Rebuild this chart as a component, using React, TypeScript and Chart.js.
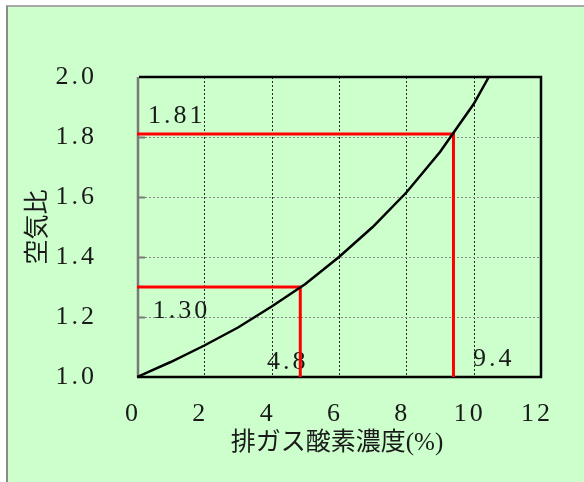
import React, { useEffect, useRef } from 'react';
import { Chart, registerables } from 'chart.js';

Chart.register(...registerables);

// ---- data ----
const o2Percent = [0, 1, 2, 3, 4, 5, 6, 7, 8, 9, 10, 10.45];
const airRatio = [1.0, 1.05, 1.105, 1.165, 1.235, 1.31, 1.4, 1.5, 1.615, 1.75, 1.91, 2.0];

const markerHighX = [0, 9.4, 9.4];
const markerHighY = [1.81, 1.81, 1.0];
const markerLowX = [0, 4.85, 4.85];
const markerLowY = [1.3, 1.3, 1.0];

const xTickValues = [0, 2, 4, 6, 8, 10, 12];
const yTickValues = [1.0, 1.2, 1.4, 1.6, 1.8, 2.0];

const annotationTexts = ['1.81', '1.30', '4.8', '9.4'];
const xTitle = '排ガス酸素濃度(%)';
const yTitle = '空気比';

// annotation anchors (data units), kept apart from the values
const annotationAnchors: [number, number][] = [
  [0.33, 1.87],
  [0.47, 1.218],
  [3.86, 1.05],
  [9.98, 1.06],
];

const NUM_FAMILY = '"Liberation Serif", "DejaVu Serif", serif';
const NUM_FONT = '26px ' + NUM_FAMILY;
const JP_FONT = '25px "Liberation Serif", "Noto Sans CJK JP", sans-serif';

const framePlugin = {
  id: 'framePlugin',
  beforeUpdate(chart: any) {
    chart.ctx.letterSpacing = '3px';
  },
  beforeDraw(chart: any) {
    chart.ctx.letterSpacing = '3px';
  },
  beforeDatasetsDraw(chart: any) {
    const { ctx, chartArea, scales } = chart;
    const { left, right, top, bottom } = chartArea;
    const xs = scales.x;
    const ys = scales.y;
    const line = (x1: number, y1: number, x2: number, y2: number) => {
      ctx.beginPath();
      ctx.moveTo(x1, y1);
      ctx.lineTo(x2, y2);
      ctx.stroke();
    };
    ctx.save();
    // vertical grid lines
    ctx.lineWidth = 1;
    ctx.setLineDash([2, 2]);
    ctx.strokeStyle = '#2a2a2a';
    xTickValues.slice(1, -1).forEach((v) => {
      const px = Math.round(xs.getPixelForValue(v)) + 0.5;
      line(px, top, px, bottom);
    });
    // horizontal grid lines
    ctx.strokeStyle = '#8a8a8a';
    yTickValues.slice(1, -1).forEach((v) => {
      const py = Math.round(ys.getPixelForValue(v)) + 0.5;
      line(left, py, right, py);
    });
    ctx.setLineDash([]);
    // left axis (gray) with inward ticks
    ctx.strokeStyle = '#7a7a7a';
    ctx.lineWidth = 2.5;
    line(left + 1, top, left + 1, bottom);
    ctx.lineWidth = 2;
    yTickValues.slice(1, -1).forEach((v) => {
      const py = Math.round(ys.getPixelForValue(v)) + 0.5;
      line(left, py, left + 8, py);
    });
    // top, right, bottom frame (black)
    ctx.strokeStyle = '#000';
    ctx.lineWidth = 2.5;
    ctx.beginPath();
    ctx.moveTo(left + 2, top);
    ctx.lineTo(right, top);
    ctx.lineTo(right, bottom);
    ctx.lineTo(left, bottom);
    ctx.stroke();
    // annotation texts
    ctx.font = NUM_FONT;
    ctx.fillStyle = '#1a1a1a';
    ctx.textAlign = 'left';
    ctx.textBaseline = 'middle';
    ctx.letterSpacing = '3px';
    annotationTexts.forEach((t, i) => {
      const [ax, ay] = annotationAnchors[i];
      ctx.fillText(t, xs.getPixelForValue(ax), ys.getPixelForValue(ay));
    });
    ctx.restore();
  },
  afterDraw(chart: any) {
    const { ctx, chartArea } = chart;
    ctx.save();
    ctx.letterSpacing = '0px';
    ctx.font = JP_FONT;
    ctx.fillStyle = '#1a1a1a';
    ctx.textAlign = 'center';
    ctx.textBaseline = 'middle';
    ctx.fillText(xTitle, (chartArea.left + chartArea.right) / 2 - 2, 443);
    ctx.translate(38, (chartArea.top + chartArea.bottom) / 2);
    ctx.rotate(-Math.PI / 2);
    ctx.fillText(yTitle, 0, 0);
    ctx.restore();
  },
};

export default function App() {
  const ref = useRef<HTMLCanvasElement>(null);

  useEffect(() => {
    const canvas = ref.current;
    if (!canvas) return;
    const chart = new Chart(canvas, {
      type: 'line',
      data: {
        datasets: [
          {
            label: '空気比',
            data: o2Percent.map((x, i) => ({ x, y: airRatio[i] })),
            borderColor: '#000',
            borderWidth: 2.5,
            pointRadius: 0,
            tension: 0,
            fill: false,
          },
          {
            label: '9.4',
            data: markerHighX.map((x, i) => ({ x, y: markerHighY[i] })),
            borderColor: '#ff0000',
            borderWidth: 3,
            pointRadius: 0,
            tension: 0,
            fill: false,
          },
          {
            label: '4.8',
            data: markerLowX.map((x, i) => ({ x, y: markerLowY[i] })),
            borderColor: '#ff0000',
            borderWidth: 3,
            pointRadius: 0,
            tension: 0,
            fill: false,
          },
        ],
      },
      options: {
        responsive: false,
        animation: false,
        events: [],
        layout: { padding: { left: 0, right: 43, top: 77, bottom: 0 } },
        plugins: {
          legend: { display: false },
          tooltip: { enabled: false },
          title: { display: false },
        },
        scales: {
          x: {
            type: 'linear',
            min: 0,
            max: 12,
            grid: { display: false },
            border: { display: false },
            afterBuildTicks: (s: any) => {
              s.ticks = xTickValues.map((value) => ({ value }));
            },
            afterFit: (s: any) => {
              s.height = 105;
            },
            ticks: {
              font: { family: NUM_FAMILY, size: 26 },
              color: '#1a1a1a',
              padding: 14,
              labelOffset: -4,
              maxRotation: 0,
              autoSkip: false,
              callback: (v: any) => String(v),
            },
          },
          y: {
            type: 'linear',
            min: 1,
            max: 2,
            grid: { display: false },
            border: { display: false },
            afterBuildTicks: (s: any) => {
              s.ticks = yTickValues.map((value) => ({ value }));
            },
            afterFit: (s: any) => {
              s.width = 137;
            },
            ticks: {
              font: { family: NUM_FAMILY, size: 26 },
              color: '#1a1a1a',
              padding: 32,
              autoSkip: false,
              callback: (v: any) => Number(v).toFixed(1),
            },
          },
        },
      },
      plugins: [framePlugin],
    } as any);
    return () => chart.destroy();
  }, []);

  return (
    <div
      style={{
        position: 'fixed',
        left: 0,
        top: 0,
        width: 584,
        height: 482,
        overflow: 'hidden',
        background: '#ffffff',
      }}
    >
      <div
        style={{
          position: 'absolute',
          left: 6,
          top: 5,
          width: 620,
          height: 520,
          background: '#ccffcc',
          borderLeft: '2px solid #8a8a8a',
          borderTop: '2px solid #a8a8a8',
          boxSizing: 'border-box',
        }}
      />
      <canvas
        ref={ref}
        width={584}
        height={482}
        style={{ position: 'absolute', left: 0, top: 0, width: 584, height: 482 }}
      />
    </div>
  );
}
